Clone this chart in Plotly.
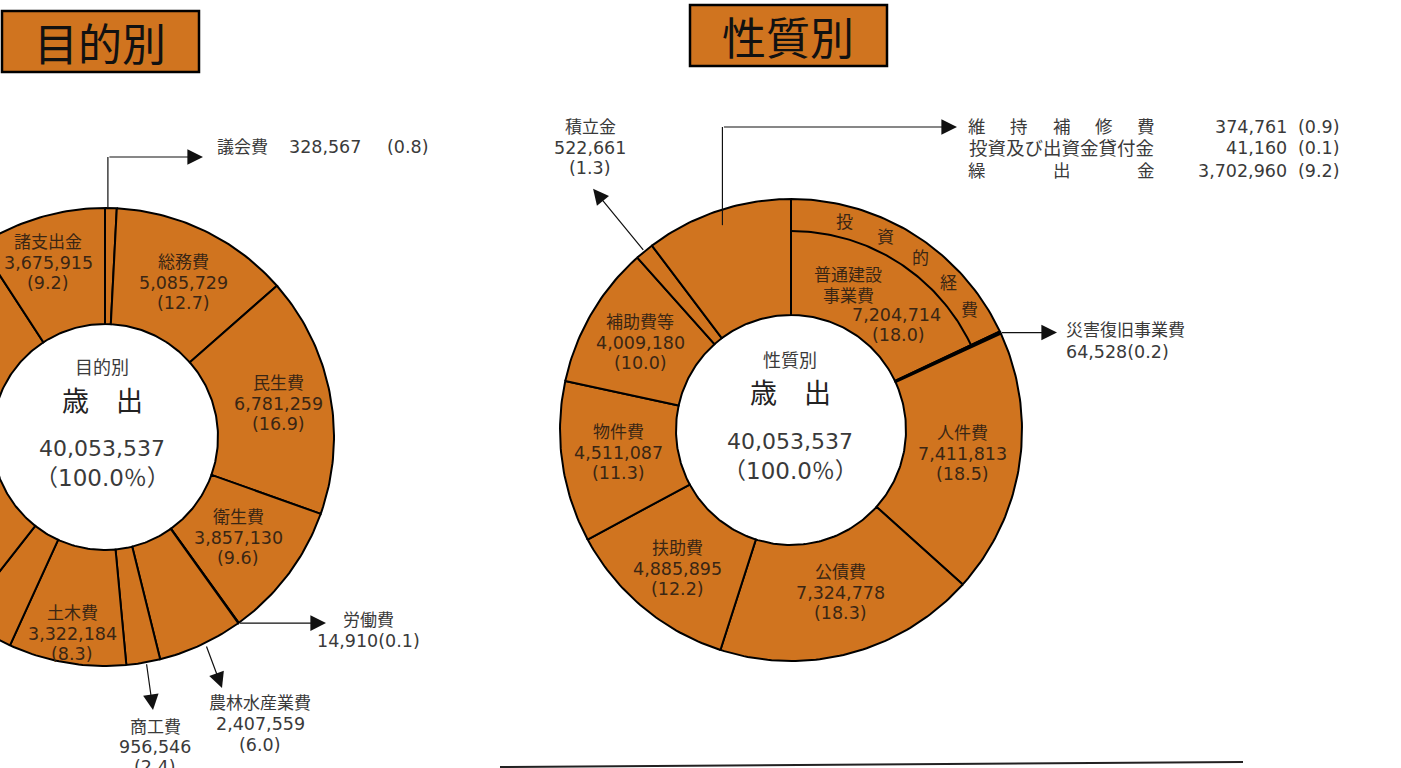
import numpy as np
import plotly.graph_objects as go

# ---------------- data ----------------
TOTAL = 40053537

# 目的別 (purpose) - clockwise from 12 o'clock
purpose_names = ["議会費", "総務費", "民生費", "衛生費", "労働費", "農林水産業費",
                 "商工費", "土木費", "消防費", "教育費", "公債費", "諸支出金"]
# last hidden three (消防費/教育費/公債費) lie off the left edge: estimated
purpose_values = [328567, 5085729, 6781259, 3857130, 14910, 2407559,
                  956546, 3322184, 1514000, 5900000, 6209738, 3675915]
purpose_pcts = ["0.8", "12.7", "16.9", "9.6", "0.1", "6.0",
                "2.4", "8.3", "3.8", "14.7", "15.5", "9.2"]

# 性質別 (nature) - clockwise from 12 o'clock
nature_names = ["普通建設事業費", "災害復旧事業費", "人件費", "公債費", "扶助費", "物件費",
                "補助費等", "積立金", "維持補修費", "投資及び出資金貸付金", "繰出金"]
nature_values = [7204714, 64528, 7411813, 7324778, 4885895, 4511087,
                 4009180, 522661, 374761, 41160, 3702960]
nature_pcts = ["18.0", "0.2", "18.5", "18.3", "12.2", "11.3",
               "10.0", "1.3", "0.9", "0.1", "9.2"]
# slice group of each item (last three share one slice)
nature_groups = [0, 1, 2, 3, 4, 5, 6, 7, 8, 8, 8]

center_total = "40,053,537"
center_pct = "（100.0％）"

# ---------------- style ----------------
ORANGE = "#D0741F"
INK = "#3a2614"
GREY = "#3a3a3a"
FONT = "DejaVu Sans, Noto Sans CJK JP, sans-serif"
JFONT = "Noto Sans CJK JP, sans-serif"

L_CX, L_CY, L_R, L_r = 105, 437, 229, 113
R_CX, R_CY, R_R, R_r = 791, 430, 231, 115
ARC_R = 199

fig = go.Figure()


def fmt(v):
    return f"{v:,}"


def sector(cx, cy, r0, r1, a0, a1, fill, lw=2):
    n = max(8, int(abs(a1 - a0) / np.pi * 180) + 2)
    t = np.linspace(a0, a1, n)
    xo = cx + r1 * np.sin(t)
    yo = cy - r1 * np.cos(t)
    xi = cx + r0 * np.sin(t[::-1])
    yi = cy - r0 * np.cos(t[::-1])
    xs = np.concatenate([xo, xi, xo[:1]])
    ys = np.concatenate([yo, yi, yo[:1]])
    fig.add_trace(go.Scatter(x=xs, y=ys, mode="lines", fill="toself",
                             fillcolor=fill, line=dict(color="black", width=lw),
                             hoverinfo="skip", showlegend=False))


def polar(cx, cy, r, a):
    return cx + r * np.sin(a), cy - r * np.cos(a)


def text(x, y, s, size=17, color=INK, xanchor="center", family=FONT):
    fig.add_annotation(x=x, y=y, xref="x", yref="y", text=s, showarrow=False,
                       xanchor=xanchor, yanchor="middle", borderpad=0,
                       font=dict(size=size, color=color, family=family))


def block(x, y0, lines, color=INK, dy=20.5, xanchor="center"):
    for i, s in enumerate(lines):
        size = 17 if i == 0 else 17.5
        text(x, y0 + i * dy, s, size=size, color=color, xanchor=xanchor)


def arrow(x0, y0, x1, y1):
    fig.add_annotation(x=x1, y=y1, ax=x0, ay=y0, xref="x", yref="y",
                       axref="x", ayref="y", text="", showarrow=True,
                       arrowhead=2, arrowsize=2.6, arrowwidth=1.2,
                       arrowcolor="#111")


def seg_line(xs, ys):
    fig.add_trace(go.Scatter(x=xs, y=ys, mode="lines",
                             line=dict(color="#111", width=1.2),
                             hoverinfo="skip", showlegend=False))


# ---------------- left donut (目的別) ----------------
pv = np.array(purpose_values, dtype=float)
p_edges = np.concatenate([[0], np.cumsum(pv)]) / pv.sum() * 2 * np.pi
for i in range(len(pv)):
    sector(L_CX, L_CY, L_r, L_R, p_edges[i], p_edges[i + 1], ORANGE)
p_mid = (p_edges[:-1] + p_edges[1:]) / 2
pidx = {n: i for i, n in enumerate(purpose_names)}

inside_left = {"諸支出金": (48, 242), "総務費": (183, 262), "民生費": (278, 383),
               "衛生費": (238, 517), "土木費": (72, 613)}
for name, (x, y) in inside_left.items():
    i = pidx[name]
    block(x, y, [name, fmt(purpose_values[i]), f"({purpose_pcts[i]})"])

# 議会費 (elbow arrow)
i = pidx["議会費"]
sx, sy = polar(L_CX, L_CY, L_R, p_mid[i])
sx -= 3
seg_line([sx, sx], [sy, 157])
arrow(sx, 157, 203, 157)
text(216, 147, purpose_names[i], color=GREY, xanchor="left")
text(288, 147, fmt(purpose_values[i]), size=17.5, color=GREY, xanchor="left")
text(386, 147, f"({purpose_pcts[i]})", size=17.5, color=GREY, xanchor="left")

# 労働費
i = pidx["労働費"]
sx, sy = polar(L_CX, L_CY, L_R, p_mid[i])
arrow(sx, sy, 326, sy)
block(368, 620, [purpose_names[i], f"{fmt(purpose_values[i])}({purpose_pcts[i]})"],
      color=GREY, dy=21)

# 農林水産業費
i = pidx["農林水産業費"]
sx, sy = polar(L_CX, L_CY, L_R, p_mid[i])
arrow(sx + 5, sy, 222, 688)
block(260, 703, [purpose_names[i], fmt(purpose_values[i]), f"({purpose_pcts[i]})"],
      color=GREY, dy=21)

# 商工費 (its last line is cut by the bottom edge, as in the reference)
i = pidx["商工費"]
sx, sy = polar(L_CX, L_CY, L_R, p_mid[i])
arrow(sx + 3, sy, 153, 710)
block(155, 727, [purpose_names[i], fmt(purpose_values[i]), f"({purpose_pcts[i]})"],
      color=GREY, dy=20)

# center text
text(102, 367, "目的別", size=18, color=GREY)
text(102, 401, "歳　出", size=27, color="#222")
text(102, 448, center_total, size=22, color=GREY)
text(102, 478, center_pct, size=23, color=GREY)

# ---------------- right donut (性質別) ----------------
nv = np.array(nature_values, dtype=float)
n_edges_items = np.concatenate([[0], np.cumsum(nv)]) / nv.sum() * 2 * np.pi
groups = sorted(set(nature_groups))
g_start = {g: min(n_edges_items[k] for k, gg in enumerate(nature_groups) if gg == g) for g in groups}
g_end = {g: max(n_edges_items[k + 1] for k, gg in enumerate(nature_groups) if gg == g) for g in groups}
nidx = {n: i for i, n in enumerate(nature_names)}
for g in groups:
    members = [nature_names[k] for k, gg in enumerate(nature_groups) if gg == g]
    fill = "black" if members == ["災害復旧事業費"] else ORANGE
    sector(R_CX, R_CY, R_r, R_R, g_start[g], g_end[g], fill)

# 投資的経費 inner arc (across the 普通建設事業費 slice)
a_end = n_edges_items[nidx["普通建設事業費"] + 1]
t = np.linspace(0, a_end, 80)
fig.add_trace(go.Scatter(x=R_CX + ARC_R * np.sin(t), y=R_CY - ARC_R * np.cos(t),
                         mode="lines", line=dict(color="black", width=2),
                         hoverinfo="skip", showlegend=False))
for ch, ang in zip("投資的経費", [14.5, 26, 37, 47, 56]):
    x, y = polar(R_CX, R_CY, 215, np.deg2rad(ang))
    text(x, y, ch, size=17)

i = nidx["普通建設事業費"]
text(848, 275, "普通建設", size=17)
text(848, 296, "事業費", size=17)
text(896, 315, fmt(nature_values[i]), size=17.5)
text(898, 335, f"({nature_pcts[i]})", size=17.5)

inside_right = {"補助費等": (640, 322), "物件費": (618, 432), "扶助費": (677, 548),
                "公債費": (840, 572), "人件費": (962, 433)}
for name, (x, y) in inside_right.items():
    i = nidx[name]
    block(x, y, [name, fmt(nature_values[i]), f"({nature_pcts[i]})"])

# 積立金
i = nidx["積立金"]
a = (n_edges_items[i] + n_edges_items[i + 1]) / 2
sx, sy = polar(R_CX, R_CY, R_R, a)
tx, ty = polar(R_CX, R_CY, 312, a)
arrow(sx, sy, tx, ty)
block(590, 127, [nature_names[i], fmt(nature_values[i]), f"({nature_pcts[i]})"],
      color=GREY, dy=20.5)

# 災害復旧事業費
i = nidx["災害復旧事業費"]
a = (n_edges_items[i] + n_edges_items[i + 1]) / 2
sx, sy = polar(R_CX, R_CY, R_R, a)
arrow(sx, sy, 1057, sy)
text(1065, 330, nature_names[i], color=GREY, xanchor="left")
text(1065, 352, f"{fmt(nature_values[i])}({nature_pcts[i]})", size=17.5,
     color=GREY, xanchor="left")

# combined slice (維持補修費 / 投資及び出資金貸付金 / 繰出金)
a = (g_start[8] + g_end[8]) / 2
sx, sy = polar(R_CX, R_CY, 216, a)
seg_line([sx, sx], [sy, 127])
arrow(sx, 127, 957, 127)
rows_y = [127, 148, 171]
LX0, LX1 = 977, 1146
for k, name in enumerate(["維持補修費", "投資及び出資金貸付金", "繰出金"]):
    i = nidx[name]
    y = rows_y[k]
    if len(name) <= 5:
        n = len(name)
        for j, ch in enumerate(name):
            text(LX0 + (LX1 - LX0) * j / (n - 1), y, ch, size=17.5, color=GREY)
    else:
        text(968, y, name, size=18.5, color=GREY, xanchor="left")
    text(1288, y, fmt(nature_values[i]), size=17.5, color=GREY, xanchor="right")
    text(1297, y, f"({nature_pcts[i]})", size=17.5, color=GREY, xanchor="left")

# center text
text(790, 360, "性質別", size=18, color=GREY)
text(790, 393, "歳　出", size=27, color="#222")
text(790, 441, center_total, size=22, color=GREY)
text(790, 471, center_pct, size=23, color=GREY)

# ---------------- titles ----------------
fig.add_shape(type="rect", xref="x", yref="y", x0=2, x1=199, y0=11, y1=72,
              fillcolor=ORANGE, line=dict(color="black", width=2.5), layer="below")
text(100, 42, "目的別", size=44, color="#111", family=JFONT)
fig.add_shape(type="rect", xref="x", yref="y", x0=690, x1=887, y0=5, y1=66,
              fillcolor=ORANGE, line=dict(color="black", width=2.5), layer="below")
text(788, 36, "性質別", size=44, color="#111", family=JFONT)

# bottom rule
fig.add_shape(type="line", xref="x", yref="y", x0=500, y0=767, x1=1243, y1=762,
              line=dict(color="#222", width=2))

fig.update_xaxes(range=[0, 1401], visible=False, fixedrange=True)
fig.update_yaxes(range=[768, 0], visible=False, fixedrange=True)
fig.update_layout(width=1401, height=768, margin=dict(l=0, r=0, t=0, b=0),
                  paper_bgcolor="white", plot_bgcolor="white", showlegend=False)

fig.write_html("out.html", config={"displayModeBar": False},
               post_script="document.body.style.margin='0px';")
